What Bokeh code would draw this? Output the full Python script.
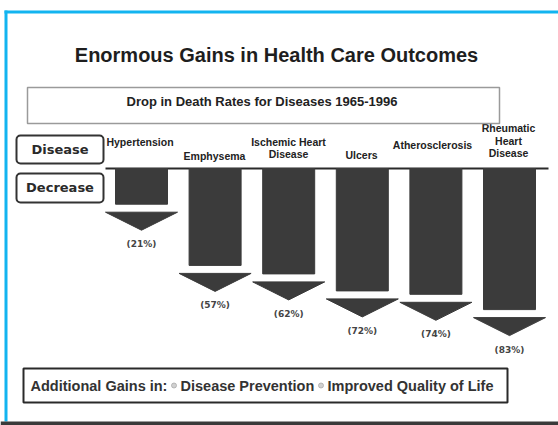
from bokeh.plotting import figure
from bokeh.models import Range1d, BoxAnnotation
from bokeh.core.properties import value
from bokeh.embed import file_html
from bokeh.resources import INLINE

# ---- data ----
diseases = ["Hypertension", "Emphysema", "Ischemic Heart\nDisease", "Ulcers",
            "Atherosclerosis", "Rheumatic\nHeart\nDisease"]
decrease = [21, 57, 62, 72, 74, 83]
title = "Enormous Gains in Health Care Outcomes"
subtitle = "Drop in Death Rates for Diseases 1965-1996"
row_labels = ["Disease", "Decrease"]
footer_parts = ["Additional Gains in:", "Disease Prevention", "Improved Quality of Life"]

# ---- layout (page pixel coordinates) ----
W, H = 558, 425
X0, Y0 = 0, 0
BASE_PX = 168.0
PX_PER_PCT = 1.70
CAT0_PX, CAT_STEP = 141.0, 73.6

p = figure(width=W, height=H, output_backend="svg", toolbar_location=None,
           x_axis_type=None, y_axis_type=None,
           x_range=Range1d(X0, X0 + W), y_range=Range1d(Y0 + H, Y0),
           min_border=0, min_border_left=0, min_border_right=0,
           min_border_top=0, min_border_bottom=0)
p.outline_line_color = None
p.background_fill_color = "white"
p.border_fill_color = "white"
p.grid.visible = False

p.extra_x_ranges = {"cat": Range1d((X0 - CAT0_PX) / CAT_STEP, (X0 + W - CAT0_PX) / CAT_STEP)}
p.extra_y_ranges = {"pct": Range1d(-(Y0 + H - BASE_PX) / PX_PER_PCT, (BASE_PX - Y0) / PX_PER_PCT)}

idx = list(range(len(diseases)))
neg = [-d for d in decrease]

# frame decorations
p.quad(left=[4], right=[7], top=[10], bottom=[421], color="#12b4f0", line_width=0)
p.quad(left=[4], right=[W], top=[10], bottom=[13], color="#12b4f0", line_width=0)
p.quad(left=[0], right=[W], top=[421], bottom=[H], color="#3a3a3a", line_width=0)

# title
p.text(x=[276], y=[54], text=[title], text_font=value("Liberation Sans"),
       text_font_style="bold", text_font_size="20px", text_color="#1e1e1e",
       text_align="center", text_baseline="middle")

# subtitle box
p.add_layout(BoxAnnotation(left=27, right=499, top=87, bottom=123,
                           fill_alpha=0, line_color="#9a9a9a", line_width=1.5,
                           line_dash="solid", line_alpha=1))
p.text(x=[261.5], y=[101], text=[subtitle], text_font=value("Liberation Sans"),
       text_font_style="bold", text_font_size="13px", text_color="#222222",
       text_align="center", text_baseline="middle")

# row label boxes
for (top, bot, ty), lab in zip([(135, 163, 149), (173, 202, 187)], row_labels):
    p.add_layout(BoxAnnotation(left=16, right=103, top=top, bottom=bot,
                               fill_alpha=0, line_color="#333333", line_width=2,
                               line_dash="solid", line_alpha=1, border_radius=4))
    p.text(x=[59.5], y=[ty], text=[lab], text_font=value("DejaVu Sans"),
           text_font_style="bold", text_font_size="13px", text_color="#2a2a2a",
           text_align="center", text_baseline="middle")

# baseline
p.segment(x0=[(105 - CAT0_PX) / CAT_STEP], x1=[(548 - CAT0_PX) / CAT_STEP], y0=[0], y1=[0],
          x_range_name="cat", y_range_name="pct", line_color="#2a2a2a", line_width=2)

# bars
bar_w = 52 / CAT_STEP
p.vbar(x=idx, width=bar_w, top=0, bottom=neg, x_range_name="cat", y_range_name="pct",
       fill_color="#3b3b3b", line_color="#3b3b3b")

# arrows
gap = 8 / PX_PER_PCT
ah = 18 / PX_PER_PCT
aw = 36 / CAT_STEP
xs = [[i - aw, i + aw, i] for i in idx]
ys = [[v - gap, v - gap, v - gap - ah] for v in neg]
p.patches(xs=xs, ys=ys, x_range_name="cat", y_range_name="pct",
          fill_color="#3b3b3b", line_color="#3b3b3b")

# percent labels
p.text(x=idx, y=[v - 40 / PX_PER_PCT for v in neg], text=[f"({d}%)" for d in decrease],
       x_range_name="cat", y_range_name="pct", text_font=value("DejaVu Sans"),
       text_font_style="bold", text_font_size="9px", text_color="#444444",
       text_align="center", text_baseline="middle")

# category labels (last line bottom positions in page px)
label_bottom = [147, 161, 160, 160, 150, 159]
label_dx = [-1.5, -0.6, -0.2, -0.8, -3.4, -1.0]
p.text(x=[i + dx / CAT_STEP for i, dx in zip(idx, label_dx)], y=label_bottom, text=diseases,
       x_range_name="cat", text_font=value("Liberation Sans"), text_font_style="bold",
       text_font_size="10.5px", text_color="#222222", text_align="center",
       text_baseline="bottom", text_line_height=1.05)

# footer box
p.add_layout(BoxAnnotation(left=23, right=507, top=368, bottom=402,
                           fill_alpha=0, line_color="#2a2a2a", line_width=2,
                           line_dash="solid", line_alpha=1))
p.text(x=[30, 180, 327], y=[385] * 3, text=footer_parts, text_font=value("Liberation Sans"),
       text_font_style="bold", text_font_size="14.5px", text_color="#333333",
       text_align="left", text_baseline="middle")
p.scatter(x=[173.5, 320.5], y=[385, 385], marker="circle", size=5,
          fill_color="#d0d0d0", line_color="#aaaaaa", line_width=0.8)

open("out.html", "w").write(file_html(p, INLINE))
